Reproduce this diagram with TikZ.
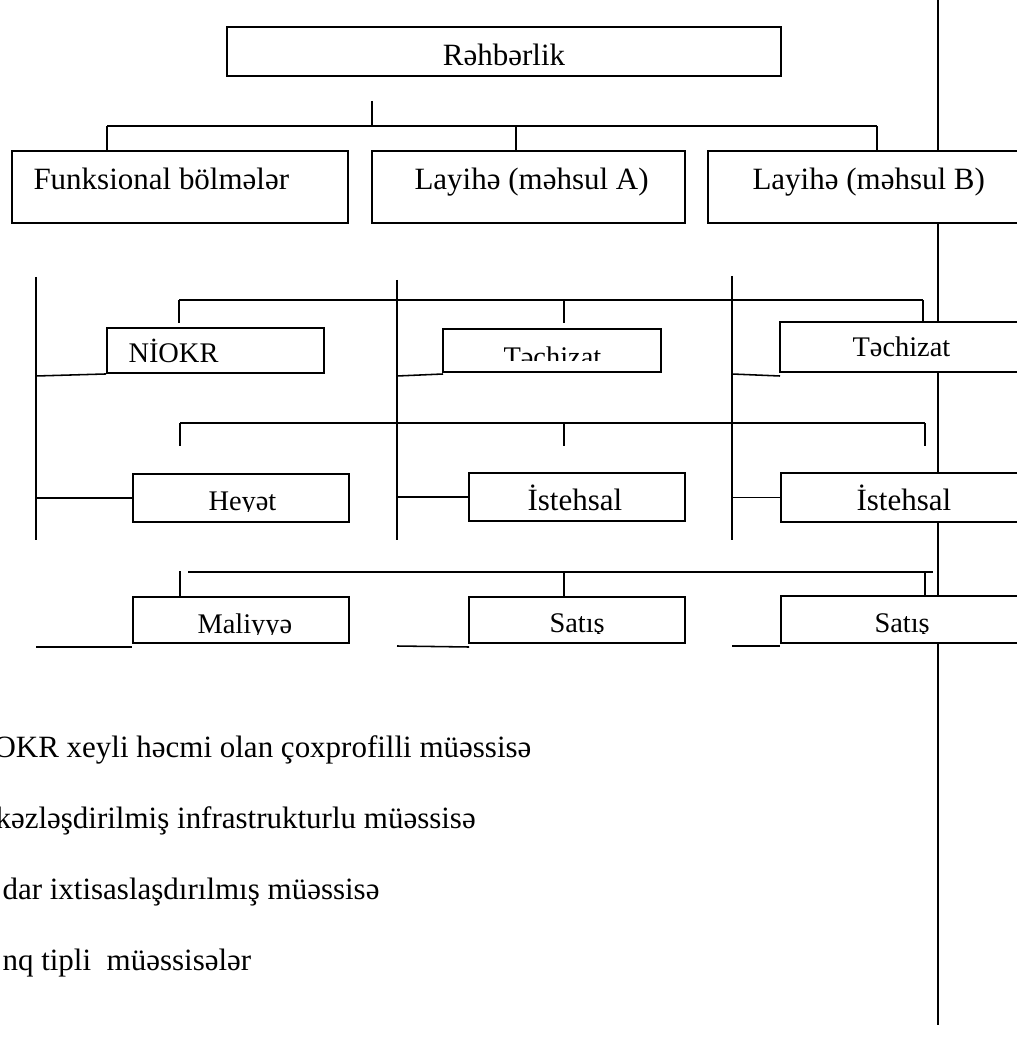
\documentclass[tikz,border=0pt]{standalone}
\usepackage{fontspec}
\setmainfont{Liberation Serif}
\usepackage{tikz}
\usetikzlibrary{fit}

\tikzset{
  box/.style={draw, fill=white, line width=0.75pt, inner sep=0pt},
  lbl/.style={anchor=base west, inner sep=0pt, font=\fontsize{12}{14}\selectfont},
  lbls/.style={lbl, font=\fontsize{11}{13}\selectfont},
  wire/.style={line width=0.6pt}
}

\begin{document}
\begin{tikzpicture}[x=0.013605cm, y=-0.013605cm]
  \useasboundingbox (0,0) rectangle (1017,1053);
  \clip (0,0) rectangle (1017,1053);

  % frame line on the right
  \coordinate (rtop) at (938,0);
  \coordinate (rbot) at (938,1025);
  \draw[wire] (rtop) -- (rbot);

  % top level
  \node[box, fit={(227,27) (781,76)}] (head) {};
  \node[lbl, anchor=base] (headtxt) at (504,66) {Rəhbərlik};

  \node[box, fit={(12,151) (348,223)}] (func) {};
  \node[box, fit={(372,151) (685,223)}] (proja) {};
  \node[box, fit={(708,151) (1030,223)}] (projb) {};
  \node[lbl] (functxt) at (33,190) {Funksional bölmələr};
  \node[lbl] (projatxt) at (414,190) {Layihə (məhsul A)};
  \node[lbl] (projbtxt) at (752,190) {Layihə (məhsul B)};

  \coordinate (hstub) at (372,101);
  \coordinate (hbus) at (372,126);
  \coordinate (d1) at (107,126);
  \coordinate (d2) at (516,126);
  \coordinate (d3) at (877,126);
  \draw[wire] (hstub) -- (hbus);
  \draw[wire] (d1) -- (d3);
  \draw[wire] (d1) -- (d1 |- func.north);
  \draw[wire] (d2) -- (d2 |- proja.north);
  \draw[wire] (d3) -- (d3 |- projb.north);

  % units
  \node[box, fit={(107,328) (324,373)}] (niokr) {};
  \node[box, fit={(443,329) (661,372)}] (tech2) {};
  \node[box, fit={(780,322) (1030,372)}] (tech3) {};
  \node[box, fit={(133,474) (349,522)}] (heyet) {};
  \node[box, fit={(469,473) (685,521)}] (ist2) {};
  \node[box, fit={(781,473) (1030,522)}] (ist3) {};
  \node[box, fit={(133,597) (349,643)}] (maliyye) {};
  \node[box, fit={(469,597) (685,643)}] (sat2) {};
  \node[box, fit={(781,596) (1030,643)}] (sat3) {};

  \node[lbls] (niokrtxt) at (128,363) {NİOKR};
  \begin{scope}
    \clip (443,329) rectangle (661,361);
    \node[lbls] (tech2txt) at (503,367) {Təchizat};
  \end{scope}
  \node[lbls] (tech3txt) at (852,357) {Təchizat};
  \begin{scope}
    \clip (133,474) rectangle (349,511);
    \node[lbls] (heyettxt) at (208,510) {Heyət};
  \end{scope}
  \node[lbl] (ist2txt) at (527,510) {İstehsal};
  \node[lbl] (ist3txt) at (856,510) {İstehsal};
  \begin{scope}
    \clip (133,597) rectangle (349,634);
    \node[lbls] (maliyyetxt) at (197,633) {Maliyyə};
  \end{scope}
  \begin{scope}
    \clip (469,597) rectangle (685,633);
    \node[lbls] (sat2txt) at (549,632) {Satış};
  \end{scope}
  \begin{scope}
    \clip (781,596) rectangle (1017,633);
    \node[lbls] (sat3txt) at (874,632) {Satış};
  \end{scope}

  % project lines
  \foreach \n/\x/\t in {1/36/277, 2/397/280, 3/732/276} {
    \coordinate (v\n top) at (\x,\t);
    \coordinate (v\n bot) at (\x,540);
    \draw[wire] (v\n top) -- (v\n bot);
  }

  % first bus
  \coordinate (ba1) at (179,300);
  \coordinate (ba2) at (564,300);
  \coordinate (ba3) at (923,300);
  \draw[wire] (ba1) -- (ba3);
  \draw[wire] (ba1) -- (179,323);
  \draw[wire] (ba2) -- (564,323);
  \draw[wire] (ba3) -- (ba3 |- tech3.north);

  % second bus
  \coordinate (bb1) at (180,423);
  \coordinate (bb2) at (564,423);
  \coordinate (bb3) at (925,423);
  \draw[wire] (bb1) -- (bb3);
  \foreach \c in {bb1,bb2,bb3}
    \draw[wire] (\c) -- ++(0,23);

  % third bus
  \coordinate (bc0) at (180,571);
  \coordinate (bc1) at (188,572);
  \coordinate (bc2) at (564,572);
  \coordinate (bc3) at (925,572);
  \coordinate (bc4) at (933,572);
  \draw[wire] (bc1) -- (bc4);
  \draw[wire] (bc0) -- (bc0 |- maliyye.north);
  \draw[wire] (bc2) -- (bc2 |- sat2.north);
  \draw[wire] (bc3) -- (bc3 |- sat3.north);

  % side links
  \coordinate (k1) at (36,376);
  \coordinate (k2) at (397,376);
  \coordinate (k3) at (732,374);
  \draw[wire] (k1) -- (niokr.south west);
  \draw[wire] (k2) -- (443,374);
  \draw[wire] (k3) -- (780,376);
  \draw[wire] (v1top |- heyet.west) -- (heyet.west);
  \draw[wire] (v2top |- ist2.west) -- (ist2.west);
  \draw[wire] (v3top |- ist3.west) -- (ist3.west);

  \coordinate (m1) at (36,647);
  \coordinate (m2) at (397,646);
  \coordinate (m3) at (732,646);
  \draw[wire] (m1) -- (maliyye.south west |- m1);
  \draw[wire] (m2) -- (469,647);
  \draw[wire] (m3) -- (sat3.south west |- m3);

  % list below
  \node[lbl] (row1) at (-7,757) {OKR xeyli həcmi olan çoxprofilli müəssisə};
  \node[lbl] (row2) at (-5,828) {kəzləşdirilmiş infrastrukturlu müəssisə};
  \node[lbl] (row3) at (2,899) {dar ixtisaslaşdırılmış müəssisə};
  \node[lbl] (row4) at (2,970) {nq tipli~ müəssisələr};
\end{tikzpicture}
\end{document}
